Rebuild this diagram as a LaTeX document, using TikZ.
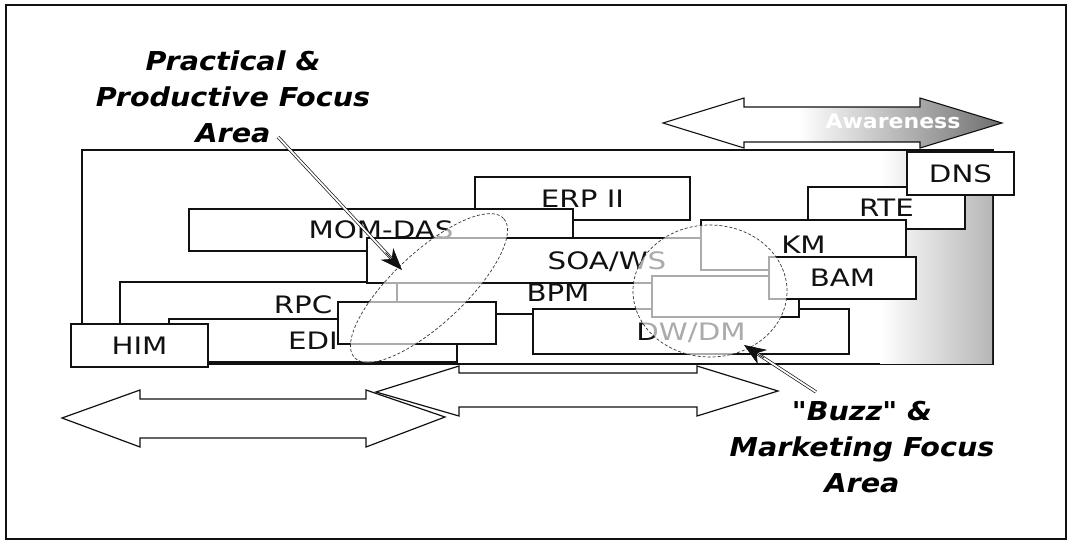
\documentclass[tikz,border=0pt]{standalone}
\usepackage{fontspec}
\setmainfont{DejaVu Sans}
\newfontfamily\boxfont[FakeStretch=1.22]{DejaVu Sans}
\newfontfamily\headfont[FakeStretch=1.1]{DejaVu Sans}
\usepackage{tikz}
\usetikzlibrary{arrows.meta,calc,shapes.geometric}
\definecolor{cLine}{HTML}{111111}
\definecolor{cStip}{HTML}{6E6E6E}
\pgfdeclarehorizontalshading{awfade}{100bp}{color(0bp)=(white); color(45bp)=(white); color(75bp)=(cStip); color(100bp)=(cStip)}
\tikzset{
  tbox/.style={draw=cLine,fill=white,line width=1.2pt,inner sep=0pt,text=cLine,
    font={\boxfont\fontsize{24}{28}\selectfont},text height=17.5pt,text depth=0pt},
  focus/.style={ellipse,draw=cLine!85,dash pattern=on 3pt off 2pt,line width=0.7pt,
    fill=white,fill opacity=0.65,inner sep=0pt},
  ttl/.style={font={\headfont\bfseries\itshape\fontsize{26}{36}\selectfont},align=center,text=black},
  dshaft/.style={draw=cLine,double=white,double distance=1.8pt,line width=0.7pt},
  ahead/.style={-{Stealth[length=22pt,width=17pt,inset=7pt]},line width=0.7pt,color=cLine},
  barr/.style={draw=cLine,line width=1.2pt,line join=miter},
}

\begin{document}
\begin{tikzpicture}[x=1pt,y=-1pt]
  \useasboundingbox (0,0) rectangle (1072,541);
  \draw[cLine,line width=1.8pt] (6,5) rectangle (1066,539);
  \draw[cLine,line width=1.2pt,fill=white] (82,150) rectangle (993,364);
  \shade[left color=white,right color=cStip!50] (880,151) rectangle (992,363);

  \node[tbox,minimum width=215pt,minimum height=43pt] (erp) at (582.5,198.5) {ERP II};
  \node[tbox,minimum width=384pt,minimum height=42pt] (mom) at (381,230) {MOM-DAS};
  \node[tbox,minimum width=366pt,minimum height=46pt] (rpc) at (303,305) {RPC};
  \node[tbox,minimum width=322pt,minimum height=43pt] (bpm) at (558,292.5) {BPM};
  \node[tbox,minimum width=480pt,minimum height=45pt] (soa) at (607,260.5) {SOA/WS};
  \node[tbox,minimum width=288pt,minimum height=43pt] (edi) at (313,340.5) {EDI};
  \node[tbox,minimum width=137pt,minimum height=43pt] (him) at (139.5,345.5) {HIM};
  \node[tbox,minimum width=158pt,minimum height=42pt] (blankl) at (417,323) {};
  \node[tbox,minimum width=316pt,minimum height=45pt] (dwdm) at (691,331.5) {DW/DM};
  \node[tbox,minimum width=147pt,minimum height=41pt] (blankr) at (725.5,296.5) {};
  \node[tbox,minimum width=157pt,minimum height=42pt] (rte) at (886.5,208) {RTE};
  \node[tbox,minimum width=205pt,minimum height=50pt] (km) at (803.5,245) {KM};
  \node[tbox,minimum width=147pt,minimum height=42pt] (bam) at (842.5,278) {BAM};
  \node[tbox,minimum width=107pt,minimum height=43pt] (dns) at (960.5,173.5) {DNS};

  \node[focus,minimum width=204pt,minimum height=72pt,rotate=43] (fprac) at (429,288) {};
  \node[focus,minimum width=154pt,minimum height=132pt] (fbuzz) at (710,291) {};

  \shadedraw[shading=awfade,draw=cLine,line width=1.1pt,line join=miter]
    (663,123) -- (744,98) -- (744,107) -- (920,107) -- (920,98) -- (1002,123)
    -- (920,148) -- (920,142) -- (744,142) -- (744,148) -- cycle;
  \node[font={\headfont\bfseries\fontsize{20}{24}\selectfont},text=white] (aw) at (893,121) {Awareness};

  \draw[barr] (62,418) -- (140,390) -- (140,399) -- (366,399) -- (366,390) -- (445,417)
    -- (366,447) -- (366,438) -- (140,438) -- (140,447) -- cycle;
  \draw[barr] (376,392) -- (459,366) -- (459,373) -- (697,373) -- (697,366) -- (778,391)
    -- (697,416) -- (697,407) -- (459,407) -- (459,416) -- cycle;

  \node[ttl] (prac) at (233,97) {Practical \&\\Productive Focus\\Area};
  \node[ttl] (buzz) at (862,447) {"Buzz" \&\\Marketing Focus\\Area};

  \coordinate (pTail) at (278,137);
  \coordinate (pTip) at (402,270);
  \coordinate (bTail) at (816,392);
  \coordinate (bTip) at (744,345);
  \draw[dshaft,shorten >=16pt] (pTail) -- (pTip);
  \draw[ahead] ($(pTip)!24pt!(pTail)$) -- (pTip);
  \draw[dshaft,shorten >=16pt] (bTail) -- (bTip);
  \draw[ahead] ($(bTip)!24pt!(bTail)$) -- (bTip);
\end{tikzpicture}
\end{document}
